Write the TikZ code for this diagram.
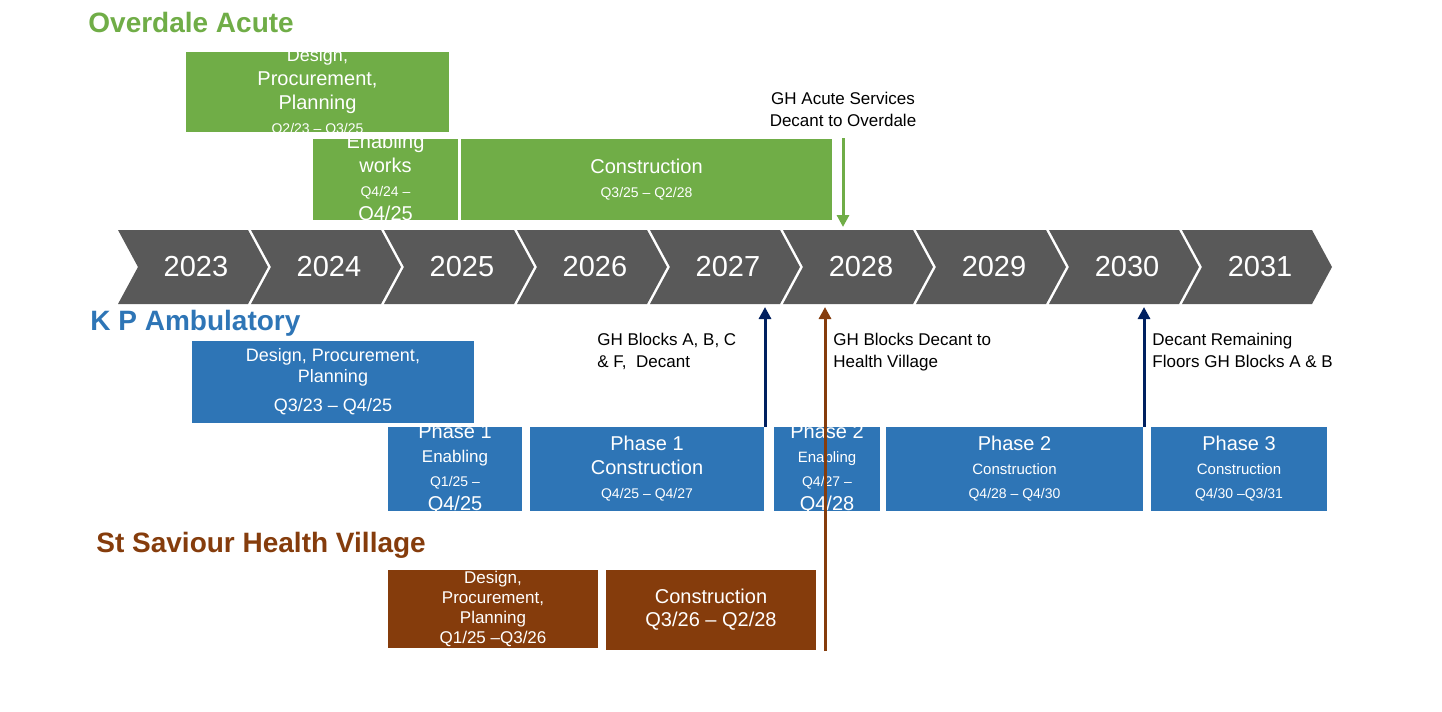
\documentclass[tikz,border=0pt]{standalone}
\usepackage{fontspec}
\setmainfont{Liberation Sans}
\usetikzlibrary{arrows.meta}
\definecolor{acute}{RGB}{112,173,71}
\definecolor{amb}{RGB}{46,117,182}
\definecolor{vill}{RGB}{133,60,12}
\definecolor{navy}{RGB}{0,32,96}
\definecolor{chev}{RGB}{89,89,89}
\newcommand{\fbig}{\fontsize{10}{11.5}\selectfont}
\newcommand{\fmid}{\fontsize{8.5}{10}\selectfont}
\newcommand{\fsml}{\fontsize{7}{8}\selectfont}
\tikzset{
  lbl/.style={text=white, align=center, inner sep=0pt},
  note/.style={font=\fontsize{8.5}{11}\selectfont, align=left, anchor=north west, inner sep=0pt},
  head/.style={font=\bfseries\fontsize{14}{16}\selectfont, anchor=west, inner sep=0pt},
  decant/.style={line width=1.5pt, -{Triangle[length=6pt,width=6pt]}}
}
\begin{document}
\begin{tikzpicture}[x=0.5pt,y=-0.5pt]
\useasboundingbox (0,0) rectangle (1442,712);

%%%%%%%%%%%%%%%%%%%%%%%%%%%%%%%%	OVERDALE ACUTE
\node[head, text=acute] (hacute) at (88,22) {Overdale Acute};
\fill[acute] (186,52) rectangle (449,132);
\node[lbl] (adpp) at (317.5,92) {\fontsize{9}{9.5}\selectfont Design,\\Procurement,\\Planning\\\fsml Q2/23 -- Q3/25};
\fill[acute] (313,139) rectangle (458,220);
\node[lbl] (aenb) at (385.5,179.5) {\fbig Enabling\\works\\\fsml Q4/24 --\\Q4/25};
\fill[acute] (461,139) rectangle (832,220);
\node[lbl] (acon) at (646.5,179.5) {\fbig Construction\\\fsml Q3/25 -- Q2/28};
\node[note, anchor=south, align=center] (ngh) at (843,127) {GH Acute Services\\Decant to Overdale};
\coordinate (gtop) at (843,138);
\coordinate (gbot) at (843,227);
\draw[decant, acute] (gtop) -- (gbot);

%%%%%%%%%%%%%%%%%%%%%%%%%%%%%%%%	CHEVRONS
\foreach \yr [count=\i from 0] in {2023,...,2031}{
  \pgfmathsetmacro{\xa}{118+133*\i}
  \fill[chev] (\xa,230) -- ++(130,0) -- ++(20,37) -- ++(-20,37) -- ++(-130,0) -- ++(20,-37) -- cycle;
  \node[text=white, font=\fontsize{14.5}{15}\selectfont] (y\yr) at (\xa+78,267) {\yr};
}

%%%%%%%%%%%%%%%%%%%%%%%%%%%%%%%%	K P AMBULATORY
\node[head, text=amb] (hamb) at (90,323) {K P Ambulatory};
\fill[amb] (192,341) rectangle (474,423);
\node[lbl, font=\fontsize{9}{10.5}\selectfont] (bdpp) at (333,382) {Design, Procurement,\\Planning\\[4pt]Q3/23 -- Q4/25};
\fill[amb] (388,427) rectangle (522,511);
\node[lbl] (bpe) at (455,469) {\fbig Phase 1\\\fmid Enabling\\\fsml Q1/25 --\\Q4/25};
\fill[amb] (530,427) rectangle (764,511);
\node[lbl] (bpc) at (647,469) {\fbig Phase 1\\Construction\\\fsml Q4/25 -- Q4/27};
\fill[amb] (774,427) rectangle (880,511);
\node[lbl] (bqe) at (827,469) {\fbig Phase 2\\\fontsize{7.5}{8.5}\selectfont Enabling\\\fsml Q4/27 --\\Q4/28};
\fill[amb] (886,427) rectangle (1143,511);
\node[lbl] (bqc) at (1014.5,469) {\fbig Phase 2\\\fontsize{7.5}{8.5}\selectfont Construction\\\fsml Q4/28 -- Q4/30};
\fill[amb] (1151,427) rectangle (1327,511);
\node[lbl] (brc) at (1239,469) {\fbig Phase 3\\\fontsize{7.5}{8.5}\selectfont Construction\\\fsml Q4/30 --Q3/31};

\node[note] (nabc) at (597,333) {GH Blocks A, B, C\\\& F,\ \ Decant};
\node[note] (nhv) at (833,333) {GH Blocks Decant to\\Health Village};
\node[note] (nrem) at (1152,333) {Decant Remaining\\Floors GH Blocks A \& B};
\coordinate (n1b) at (765,427); \coordinate (n1t) at (765,307);
\coordinate (n2b) at (1144,427); \coordinate (n2t) at (1144,307);
\coordinate (vb) at (825,651); \coordinate (vt) at (825,307);
\draw[decant, navy] (n1b) -- (n1t);
\draw[decant, navy] (n2b) -- (n2t);
\draw[decant, vill] (vb) -- (vt);

%%%%%%%%%%%%%%%%%%%%%%%%%%%%%%%%	ST SAVIOUR
\node[head, text=vill] (hvill) at (96,545) {St Saviour Health Village};
\fill[vill] (388,570) rectangle (598,648);
\node[lbl, font=\fmid] (cdpp) at (493,609) {Design,\\Procurement,\\Planning\\Q1/25 --Q3/26};
\fill[vill] (606,570) rectangle (816,650);
\node[lbl, font=\fbig] (ccon) at (711,610) {Construction\\Q3/26 -- Q2/28};
\end{tikzpicture}
\end{document}
